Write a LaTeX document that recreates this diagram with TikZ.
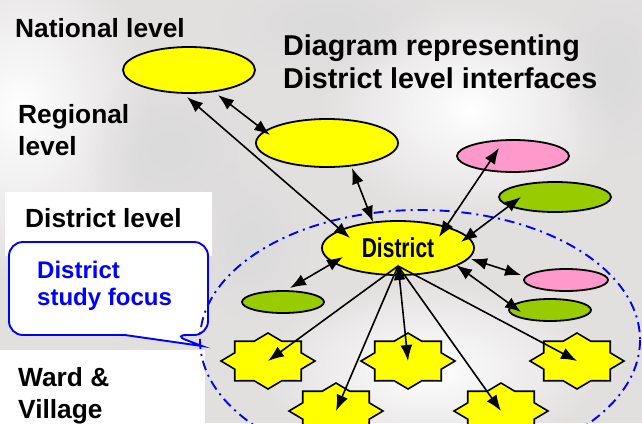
\documentclass[tikz,border=0pt]{standalone}
\usepackage{graphicx}
\usepackage{fontspec}
\setmainfont{Liberation Sans}
\usetikzlibrary{shapes,fadings,arrows.meta}

\definecolor{officeyellow}{RGB}{255,255,0}
\definecolor{officepink}{RGB}{255,153,204}
\definecolor{officegreen}{RGB}{153,204,0}
\definecolor{photogrey}{RGB}{226,223,223}
\definecolor{focusblue}{RGB}{0,0,255}

\tikzfading[name=soft spot, inner color=transparent!0, outer color=transparent!100]

\tikzstyle{office}=[ellipse,
	inner sep=0pt,
	line width=1.8pt,
	draw=black]
\tikzstyle{yellowoffice}=[office, fill=officeyellow]
\tikzstyle{pinkoffice}=[office, fill=officepink]
\tikzstyle{greenoffice}=[office, fill=officegreen]
\tikzstyle{ward}=[line width=1.6pt,
	draw=black,
	fill=officeyellow,
	line join=miter]
\tikzstyle{link}=[{Latex[length=16pt,width=12pt]}-{Latex[length=16pt,width=12pt]},
	line width=1.6pt]
\tikzstyle{feed}=[-{Latex[length=16pt,width=12pt]},
	line width=1.6pt]
\tikzstyle{levellabel}=[anchor=base west,
	inner sep=0pt,
	align=left,
	font=\bfseries\fontsize{26.3}{32}\selectfont]
\tikzstyle{titlelabel}=[levellabel,
	font=\bfseries\fontsize{28.7}{33}\selectfont]
\tikzstyle{focuslabel}=[levellabel,
	text=focusblue,
	font=\bfseries\fontsize{24}{27}\selectfont]
\tikzstyle{studyarea}=[draw=focusblue,
	line width=1.9pt,
	dash pattern=on 10pt off 5pt on 2pt off 5pt]
\tikzstyle{haze}=[white, path fading=soft spot]
\tikzstyle{grime}=[black!14, path fading=soft spot]

% eight pointed star for a ward, #1 name, #2 centre
\newcommand{\wardstar}[2]{%
	\coordinate (#1) at (#2);
	\draw[ward, shift={(#2)}] (0:47 and 28)
		\foreach \a in {0,45,...,270}{ -- (\a+22.5:36 and 21.4) -- (\a+45:47 and 28)}
		-- (337.5:36 and 21.4) -- cycle;
}

\begin{document}
\begin{tikzpicture}[x=1pt,y=-1pt]
	\useasboundingbox (0,0) rectangle (642,423);
	\clip (0,0) rectangle (642,423);

	% photo backdrop
	\fill[photogrey] (0,0) rectangle (642,423);
	\fill[haze] (20,110) ellipse [x radius=130, y radius=170];
	\fill[haze] (470,110) ellipse [x radius=150, y radius=110];
	\fill[haze] (430,370) ellipse [x radius=170, y radius=90];
	\fill[grime] (170,150) ellipse [x radius=90, y radius=80];
	\fill[grime] (330,25) ellipse [x radius=110, y radius=50];
	\fill[grime] (615,70) ellipse [x radius=60, y radius=90];
	\fill[grime] (250,240) ellipse [x radius=60, y radius=80];
	\fill[white] (5,192) rectangle (212,256);
	\fill[white] (0,350) rectangle (205,423);

	% callout
	\filldraw[draw=focusblue, fill=white, line width=1.9pt] (9,288) [rounded corners=14pt]
		-- (9,242) -- (208,242) -- (208,335) -- (173,335) [sharp corners]
		-- (202,346) -- (125,335) [rounded corners=14pt] -- (9,335) -- cycle;
	\node[focuslabel] (focus) at (37,305) {District\\study focus};

	\draw[studyarea] (420,340) ellipse [x radius=220, y radius=130];

	% labels, anchored on the last baseline
	\node[levellabel] (nationallbl) at (15,37) {National level};
	\node[levellabel] (regionallbl) at (18,155) {Regional\\level};
	\node[levellabel] (districtlbl) at (25,227) {District level};
	\node[levellabel] (wardlbl) at (18,418) {Ward \&\\Village};
	\node[titlelabel] (title) at (283,88) {Diagram representing\\District level interfaces};

	% offices
	\node (national) [yellowoffice, minimum width=132, minimum height=46] at (189,70) {};
	\node (regional) [yellowoffice, minimum width=142, minimum height=48] at (327,143) {};
	\node (district) [yellowoffice, minimum width=152, minimum height=54] at (398,248)
		{\bfseries\fontsize{21}{21}\selectfont\scalebox{1}[1.3]{District}};
	\node (pinkup) [pinkoffice, minimum width=112, minimum height=32] at (513,156) {};
	\node (greenup) [greenoffice, minimum width=112, minimum height=30] at (555,197) {};
	\node (pinkright) [pinkoffice, minimum width=84, minimum height=22] at (566,280) {};
	\node (greenright) [greenoffice, minimum width=82, minimum height=22] at (550,310) {};
	\node (greenleft) [greenoffice, minimum width=82, minimum height=22] at (283,302) {};

	% wards
	\wardstar{w1}{268,361}
	\wardstar{w2}{408,361}
	\wardstar{w3}{577,361}
	\wardstar{w4}{336,411}
	\wardstar{w5}{501,411}

	% interfaces
	\draw[link] ([shift={(29,25)}]national.center) -- ([shift={(-57,-8)}]regional.center);
	\draw[link] ([shift={(-2,27)}]national.center) -- ([shift={(-48,-10)}]district.center);
	\draw[link] ([shift={(25,25)}]regional.center) -- ([shift={(-25,-26)}]district.center);
	\draw[link] ([shift={(41,-11)}]district.center) -- ([shift={(-14,-8)}]pinkup.center);
	\draw[link] ([shift={(63,-6)}]district.center) -- ([shift={(-34,0)}]greenup.center);
	\draw[link] ([shift={(73,11)}]district.center) -- ([shift={(-45,-5)}]pinkright.center);
	\draw[link] ([shift={(58,17)}]district.center) -- ([shift={(-29,2)}]greenright.center);
	\draw[link] ([shift={(-55,9)}]district.center) -- ([shift={(7,-14)}]greenleft.center);
	\foreach \w in {w1,w3,w4,w5}
		\draw[feed] ([shift={(0,18)}]district.center) -- (\w);
	\draw[link] ([shift={(0,16)}]district.center) -- (w2);
\end{tikzpicture}
\end{document}
